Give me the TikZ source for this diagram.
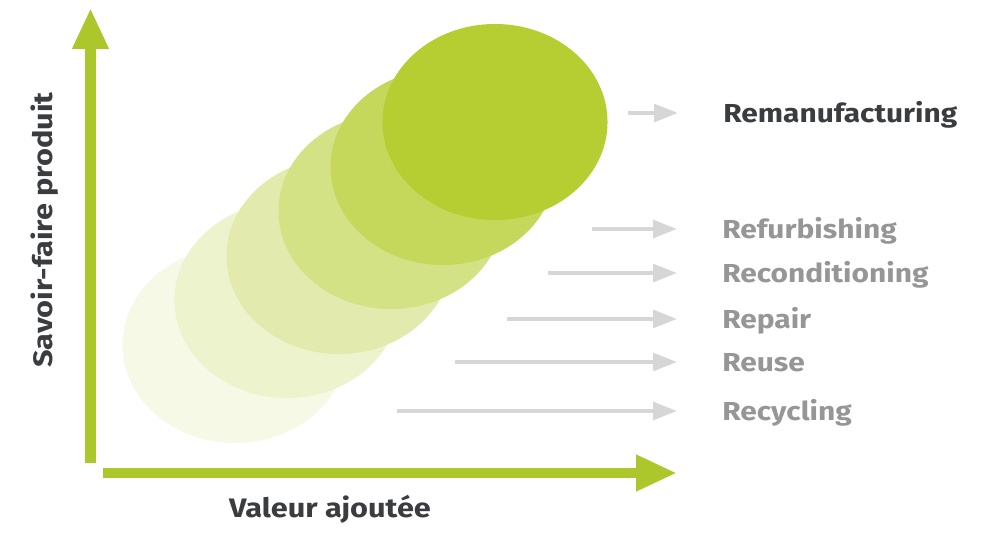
\documentclass[tikz,border=0pt]{standalone}
\usepackage{fontspec}
\setmainfont{Fira Sans}
\newfontfamily\widesans[FakeStretch=1.15]{Fira Sans}
\usepackage{tikz}
\usetikzlibrary{arrows.meta}
\usetikzlibrary{shapes}
\usetikzlibrary{positioning}

\definecolor{lime}{RGB}{182,206,50}
\definecolor{axisgreen}{RGB}{172,199,44}
\definecolor{arrowgray}{RGB}{214,214,214}
\definecolor{labelgray}{RGB}{150,150,150}
\definecolor{darktext}{RGB}{58,60,64}

\begin{document}
\begin{tikzpicture}[x=0.025cm, y=-0.025cm,
	blob/.style={ellipse, minimum width=5.625cm, minimum height=4.9cm, inner sep=0pt},
	lbl/.style={anchor=base west, inner sep=0pt, font=\widesans\bfseries\fontsize{18.5}{20}\selectfont, text=labelgray},
	axislabel/.style={font=\widesans\bfseries\fontsize{19}{21}\selectfont, text=darktext},
	axisline/.style={line width=7.8pt, draw=axisgreen, -{Triangle[length=29pt, width=24pt]}},
	graylink/.style={line width=2.8pt, draw=arrowgray, -{Triangle[length=17pt, width=12.5pt]}, shorten >=32pt}]
			\useasboundingbox (0,0) rectangle (984,532);
			
			% the six stages, lightest first
			\node[blob, fill=lime!12!white] (e1) at (235,345) {};
			\node[blob, fill=lime!25!white] (e2) at (287,300) {};
			\node[blob, fill=lime!40!white] (e3) at (339,256) {};
			\node[blob, fill=lime!60!white] (e4) at (391,211) {};
			\node[blob, fill=lime!80!white] (e5) at (443,167) {};
			\node[blob, fill=lime] (e6) at (495,122) {};
			
			% axes
			\coordinate (ybot) at (90.5,463);
			\coordinate (ytop) at (90.5,8);
			\coordinate (xleft) at (103,473);
			\coordinate (xright) at (677,473);
			\draw[axisline] (ybot) -- (ytop);
			\draw[axisline] (xleft) -- (xright);
			\node[axislabel] (xlab) at (330,509) {Valeur ajoutée};
			\node[axislabel, rotate=90] (ylab) at (45,230) {Savoir-faire produit};
			
			% labels
			\node[lbl, text=darktext] (reman) at (723,122) {Remanufacturing};
			\node[lbl] (refurb) at (722,238) {Refurbishing};
			\node[lbl] (recond) at (722,282) {Reconditioning};
			\node[lbl] (repair) at (722,328) {Repair};
			\node[lbl] (reuse) at (722,371) {Reuse};
			\node[lbl] (recycl) at (722,420) {Recycling};
			
			\coordinate (reman-s) at (628,113);
			\coordinate (refurb-s) at (592,229);
			\coordinate (recond-s) at (548,273);
			\coordinate (repair-s) at (507,319);
			\coordinate (reuse-s) at (455,362);
			\coordinate (recycl-s) at (397,411);
			
			\draw[graylink] (reman-s) -- (reman-s -| reman.west);
			\draw[graylink] (refurb-s) -- (refurb-s -| refurb.west);
			\draw[graylink] (recond-s) -- (recond-s -| recond.west);
			\draw[graylink] (repair-s) -- (repair-s -| repair.west);
			\draw[graylink] (reuse-s) -- (reuse-s -| reuse.west);
			\draw[graylink] (recycl-s) -- (recycl-s -| recycl.west);
			\end{tikzpicture}
\end{document}
